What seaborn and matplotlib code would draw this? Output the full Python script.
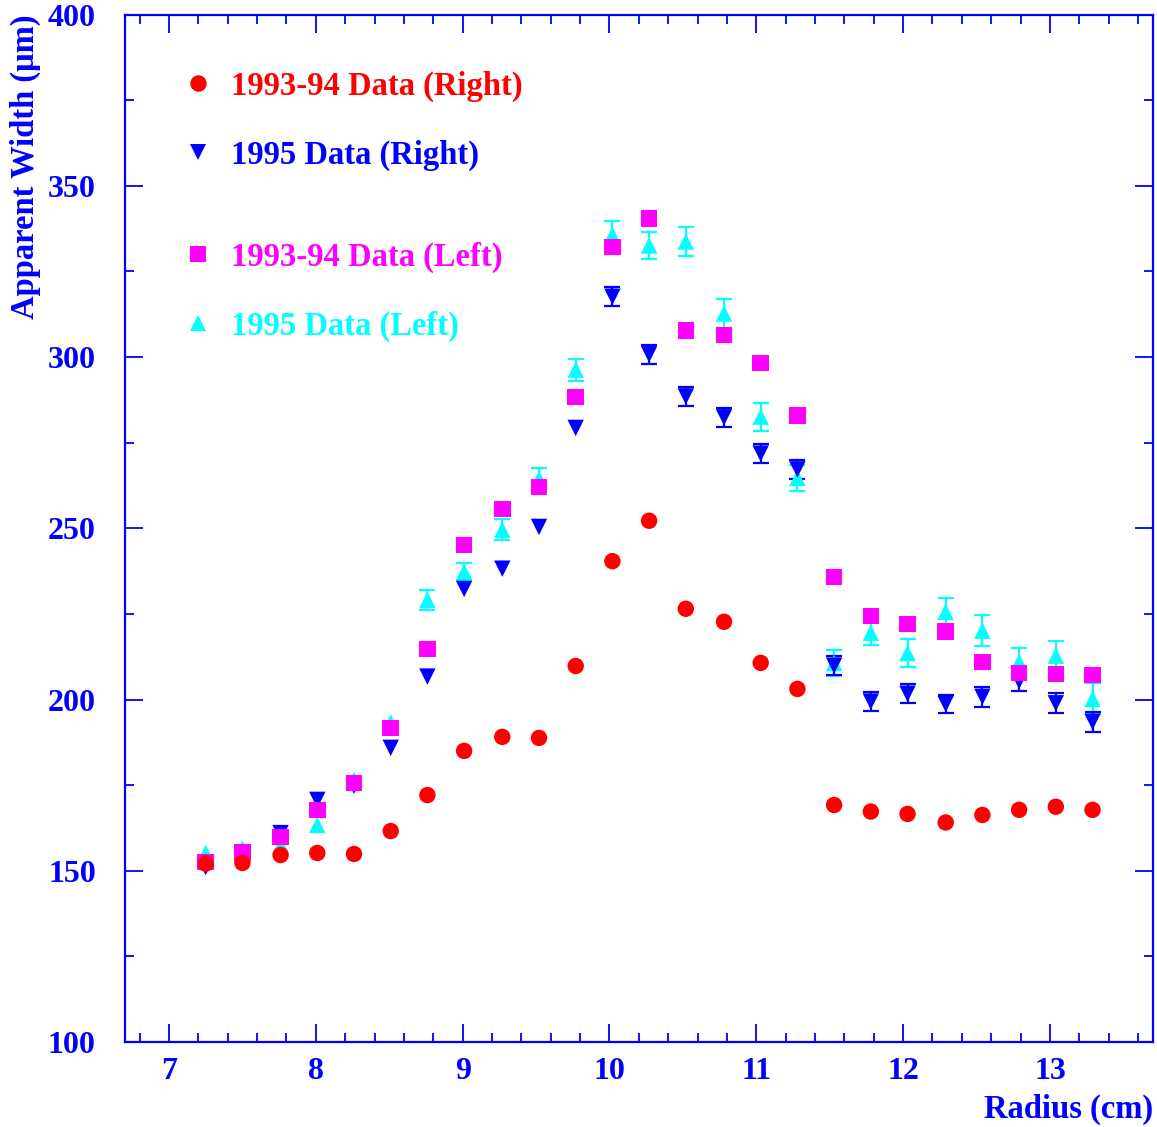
import matplotlib
matplotlib.use('Agg')
import matplotlib.pyplot as plt
from matplotlib.ticker import MultipleLocator
import seaborn as sns
import pandas as pd

# radius bins (cm)
radius = [7.25, 7.50, 7.76, 8.01, 8.26, 8.51, 8.76, 9.01, 9.27, 9.52, 9.77, 10.02, 10.27,
          10.52, 10.78, 11.03, 11.28, 11.53, 11.78, 12.03, 12.29, 12.54, 12.79, 13.04, 13.29]

# apparent width (um)
right_9394 = [152.1, 152.3, 154.6, 155.2, 154.9, 161.6, 172.1, 185.0, 189.1, 188.8, 209.8, 240.4, 252.2,
              226.5, 222.7, 210.7, 203.1, 169.2, 167.3, 166.6, 164.1, 166.3, 167.8, 168.7, 167.8]
right_95 = [151.1, 153.0, 161.0, 170.7, 174.8, 185.9, 206.7, 232.3, 238.2, 250.4, 279.3, 317.6, 300.8,
            288.5, 282.4, 271.8, 267.2, 209.9, 199.4, 201.7, 198.7, 200.8, 205.4, 198.9, 193.5]
right_95_err = [1.5, 1.5, 1.5, 1.5, 1.5, 1.5, 1.5, 1.5, 1.5, 1.5, 1.5, 2.8, 2.8,
                2.8, 2.8, 2.8, 2.8, 2.8, 2.8, 2.8, 2.6, 2.9, 2.8, 2.9, 2.9]
left_9394 = [152.6, 155.3, 159.9, 167.8, 175.7, 191.7, 214.8, 245.2, 255.7, 262.1, 288.4, 332.2, 340.4,
             307.7, 306.5, 298.3, 282.9, 235.8, 224.4, 222.1, 219.8, 211.0, 207.8, 207.5, 207.2]
left_95 = [155.2, 156.5, 157.5, 163.4, 176.5, 193.3, 229.1, 237.3, 249.6, 264.5, 296.3, 335.7, 332.6,
           333.7, 312.7, 282.6, 264.7, 210.7, 219.5, 213.6, 225.6, 220.1, 211.0, 212.8, 200.2]
left_95_err = [1.0, 1.0, 1.0, 1.5, 1.5, 1.5, 3.0, 2.7, 3.0, 3.0, 3.2, 4.0, 3.9,
               4.2, 4.2, 4.1, 3.8, 3.8, 3.6, 4.0, 4.0, 4.5, 4.0, 4.4, 4.5]

labels = ['1993-94 Data (Right)', '1995 Data (Right)', '1993-94 Data (Left)', '1995 Data (Left)']
colors = ['#ff0000', '#0000ff', '#ff00ff', '#00ffff']
markers = ['o', 'v', 's', '^']
AXIS_BLUE = '#0000ff'

# rows ordered so the cyan set is drawn first and the red one last
frames = []
for lab, vals in [(labels[3], left_95), (labels[1], right_95),
                  (labels[2], left_9394), (labels[0], right_9394)]:
    frames.append(pd.DataFrame({'Radius': radius, 'Width': vals, 'Set': lab}))
df = pd.concat(frames, ignore_index=True)

sns.set_theme(style='white')
plt.rcParams['font.family'] = ['Liberation Serif', 'DejaVu Serif']
plt.rcParams['font.weight'] = 'bold'

fig = plt.figure(figsize=(11.57, 11.27), dpi=100)
ax = fig.add_axes([0.108, 0.0754, 0.8883, 0.9117])


def draw_errors(x, y, err, color, min_err=2.3):
    # like PAW: bars shorter than the marker are not drawn
    keep = [i for i, e in enumerate(err) if e > min_err]
    ax.errorbar([x[i] for i in keep], [y[i] for i in keep], yerr=[err[i] for i in keep],
                fmt='none', ecolor=color, elinewidth=1.6, capsize=5.8, capthick=1.6, zorder=2)


draw_errors(radius, left_95, left_95_err, colors[3])
draw_errors(radius, right_95, right_95_err, colors[1])

sns.scatterplot(data=df, x='Radius', y='Width', hue='Set', style='Set',
                hue_order=labels, style_order=labels,
                palette=dict(zip(labels, colors)), markers=dict(zip(labels, markers)),
                s=140, linewidth=0, ax=ax, zorder=3)

handles, labs = ax.get_legend_handles_labels()
ax.get_legend().remove()
hmap = dict(zip(labs, handles))

leg_kw = dict(frameon=False, loc='center left', borderpad=0, borderaxespad=0,
              handlelength=1.0, handletextpad=0.5, labelspacing=1.16,
              prop={'family': 'Liberation Serif', 'weight': 'bold', 'size': 23.5})
leg1 = ax.legend([hmap[l] for l in labels[:2]], labels[:2],
                 bbox_to_anchor=(0.0555, 0.8968), **leg_kw)
for t, c in zip(leg1.get_texts(), colors[:2]):
    t.set_color(c)
ax.add_artist(leg1)
leg2 = ax.legend([hmap[l] for l in labels[2:]], labels[2:],
                 bbox_to_anchor=(0.0555, 0.7305), **leg_kw)
for t, c in zip(leg2.get_texts(), colors[2:]):
    t.set_color(c)

ax.set_xlim(6.7, 13.7)
ax.set_ylim(100, 400)
ax.xaxis.set_major_locator(MultipleLocator(1))
ax.xaxis.set_minor_locator(MultipleLocator(0.2))
ax.yaxis.set_major_locator(MultipleLocator(50))
ax.yaxis.set_minor_locator(MultipleLocator(25))

ax.tick_params(which='both', direction='in', top=True, right=True, bottom=True, left=True,
               color=AXIS_BLUE, labelcolor=AXIS_BLUE, labelsize=23)
ax.tick_params(which='major', length=13, width=1.3)
ax.tick_params(which='minor', length=6.5, width=1.3)
ax.tick_params(axis='y', which='major', pad=21)
ax.tick_params(axis='x', which='major', pad=11)
for lbl in ax.get_xticklabels() + ax.get_yticklabels():
    lbl.set_fontweight('bold')

for sp in ax.spines.values():
    sp.set_color(AXIS_BLUE)
    sp.set_linewidth(1.6)

ax.set_xlabel('Radius (cm)', fontsize=23.5, fontweight='bold', color=AXIS_BLUE, loc='right')
ax.set_ylabel('Apparent Width (\u03bcm)', fontsize=23.5, fontweight='bold', color=AXIS_BLUE, loc='top')
ax.xaxis.set_label_coords(1.0, -0.05)
ax.yaxis.set_label_coords(-0.082, 1.0)

fig.savefig('out.png', dpi=100)
